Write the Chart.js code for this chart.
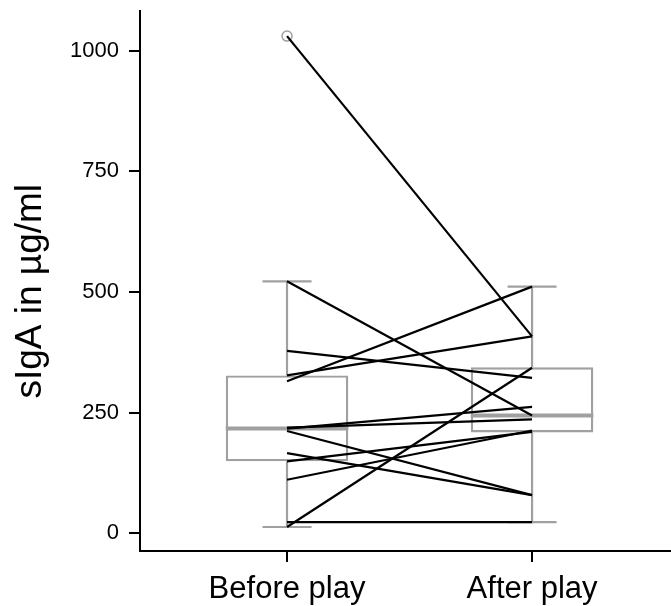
<!DOCTYPE html>
<html>
<head>
<meta charset="utf-8">
<script src="https://cdn.jsdelivr.net/npm/chart.js@4/dist/chart.umd.min.js"></script>
<style>
html,body{margin:0;padding:0;background:#fff;}
canvas{display:block;}
</style>
</head>
<body>
<canvas id="c" width="671" height="606"></canvas>
<script>
// ---- data ----
const categories = ['Before play', 'After play'];
const yTickValues = [0, 250, 500, 750, 1000];
const beforePlay = [1030, 522, 378, 327, 315, 217, 212, 219, 166, 149, 111, 23, 13];
const afterPlay  = [408, 244, 322, 408, 511, 262, 79, 236, 79, 210, 213, 23, 343];
// box statistics as drawn (one entry per category)
const boxLowerWhisker = [13, 23];
const boxQ1           = [149, 209];
const boxMedian       = [217, 244];
const boxQ3           = [327, 344];
const boxUpperWhisker = [522, 511];
const boxOutliers     = [[1030], []];

const GREY = '#a0a0a0';
const datasets = [];

// paired lines (drawn on top)
beforePlay.forEach((b, i) => {
  datasets.push({
    type: 'line',
    data: [{x: 1, y: b}, {x: 2, y: afterPlay[i]}],
    borderColor: '#000', borderWidth: 2.2, pointRadius: 0,
    order: 0
  });
});

categories.forEach((c, k) => {
  const x = k + 1;
  // median
  datasets.push({
    type: 'line',
    data: [{x: x - 0.25, y: boxMedian[k]}, {x: x + 0.25, y: boxMedian[k]}],
    borderColor: GREY, borderWidth: 4, pointRadius: 0, borderCapStyle: 'butt',
    order: 1
  });
  // whiskers
  datasets.push({
    type: 'line',
    data: [{x: x, y: boxQ3[k]}, {x: x, y: boxUpperWhisker[k]}],
    borderColor: GREY, borderWidth: 2.2, pointRadius: 0, order: 2
  });
  datasets.push({
    type: 'line',
    data: [{x: x, y: boxLowerWhisker[k]}, {x: x, y: boxQ1[k]}],
    borderColor: GREY, borderWidth: 2.2, pointRadius: 0, order: 2
  });
  // caps
  datasets.push({
    type: 'line',
    data: [{x: x - 0.1, y: boxUpperWhisker[k]}, {x: x + 0.1, y: boxUpperWhisker[k]}],
    borderColor: GREY, borderWidth: 2.2, pointRadius: 0, order: 2
  });
  datasets.push({
    type: 'line',
    data: [{x: x - 0.1, y: boxLowerWhisker[k]}, {x: x + 0.1, y: boxLowerWhisker[k]}],
    borderColor: GREY, borderWidth: 2.2, pointRadius: 0, order: 2
  });
  // outliers
  if (boxOutliers[k].length) {
    datasets.push({
      type: 'scatter',
      data: boxOutliers[k].map(v => ({x: x, y: v})),
      pointRadius: 5, pointBorderWidth: 1.5, pointBorderColor: GREY,
      pointBackgroundColor: '#fff', showLine: false, order: 1
    });
  }
});

// boxes (floating bars)
datasets.push({
  type: 'bar',
  data: categories.map((c, k) => ({x: k + 1, y: [boxQ1[k], boxQ3[k]]})),
  backgroundColor: '#fff', borderColor: GREY, borderWidth: 2.4,
  borderSkipped: false, grouped: false,
  barPercentage: 0.5, categoryPercentage: 1.0,
  order: 3
});

new Chart(document.getElementById('c'), {
  type: 'line',
  data: {datasets},
  options: {
    responsive: false,
    devicePixelRatio: 1,
    animation: false,
    layout: {autoPadding: false, padding: {top: 11, right: 0, bottom: 0, left: 0}},
    plugins: {legend: {display: false}, tooltip: {enabled: false}},
    scales: {
      x: {
        type: 'linear',
        offset: false,
        min: 0.4, max: 2.567,
        afterBuildTicks: s => { s.ticks = categories.map((c, k) => ({value: k + 1})); },
        afterFit: s => { s.height = 55; s.paddingRight = 0; s.paddingLeft = 0; },
        ticks: {
          callback: v => categories[Math.round(v) - 1],
          font: {family: 'Liberation Sans, Arial, sans-serif', size: 31},
          color: '#000', padding: 9, maxRotation: 0, autoSkip: false
        },
        grid: {display: true, offset: false, drawOnChartArea: false, drawTicks: true, tickLength: 11, color: '#000', lineWidth: 2},
        border: {display: true, color: '#000', width: 2}
      },
      y: {
        type: 'linear',
        min: -36.7, max: 1082,
        afterBuildTicks: s => { s.ticks = yTickValues.map(v => ({value: v})); },
        afterFit: s => { s.width = 140; s.paddingTop = 0; s.paddingBottom = 0; },
        ticks: {
          callback: v => String(v),
          font: {family: 'Liberation Sans, Arial, sans-serif', size: 22},
          color: '#000', padding: 10
        },
        title: {
          display: true, text: 'sIgA in µg/ml  ',
          font: {family: 'Liberation Sans, Arial, sans-serif', size: 37},
          color: '#000', padding: {top: 9, bottom: 0}
        },
        grid: {display: true, drawOnChartArea: false, drawTicks: true, tickLength: 11, color: '#000', lineWidth: 2},
        border: {display: true, color: '#000', width: 2}
      }
    }
  }
});
</script>
</body>
</html>
